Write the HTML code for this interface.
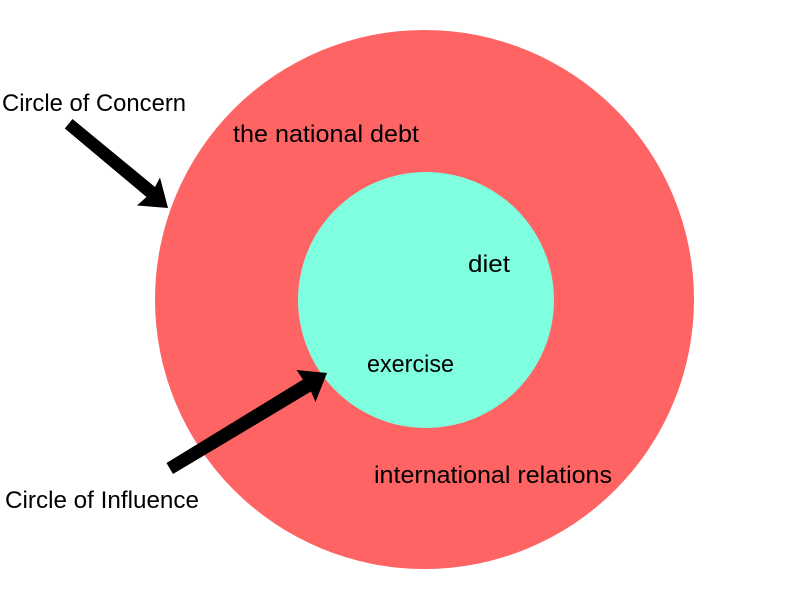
<!DOCTYPE html>
<html>
<head>
<meta charset="utf-8">
<style>
html,body{margin:0;padding:0;background:#fff;width:800px;height:600px;overflow:hidden}
svg{display:block}
text{font-family:"Liberation Sans",sans-serif;font-size:24px;fill:#000}
</style>
</head>
<body>
<svg width="800" height="600" viewBox="0 0 800 600">
<rect width="800" height="600" fill="#fff"/>
<circle cx="424.500" cy="299.500" r="269.500" fill="#ff6464"/>
<circle cx="426" cy="300" r="128" fill="#80ffe0"/>
<polygon points="64.800,128.500 72.500,119 155,187 160,177.500 168,208 137,205.500 146.500,197" fill="#000"/>
<polygon points="166.500,463 173,474 311,391.500 315.500,402 327,373 296.500,370 303,379.500" fill="#000"/>
<text x="2" y="111" textLength="184" lengthAdjust="spacingAndGlyphs">Circle of Concern</text>
<text x="233" y="142" textLength="186" lengthAdjust="spacingAndGlyphs">the national debt</text>
<text x="468" y="272" textLength="42" lengthAdjust="spacingAndGlyphs">diet</text>
<text x="367" y="372" textLength="87" lengthAdjust="spacingAndGlyphs">exercise</text>
<text x="374" y="483" textLength="238" lengthAdjust="spacingAndGlyphs">international relations</text>
<text x="5" y="508" textLength="194" lengthAdjust="spacingAndGlyphs">Circle of Influence</text>
</svg>
</body>
</html>
